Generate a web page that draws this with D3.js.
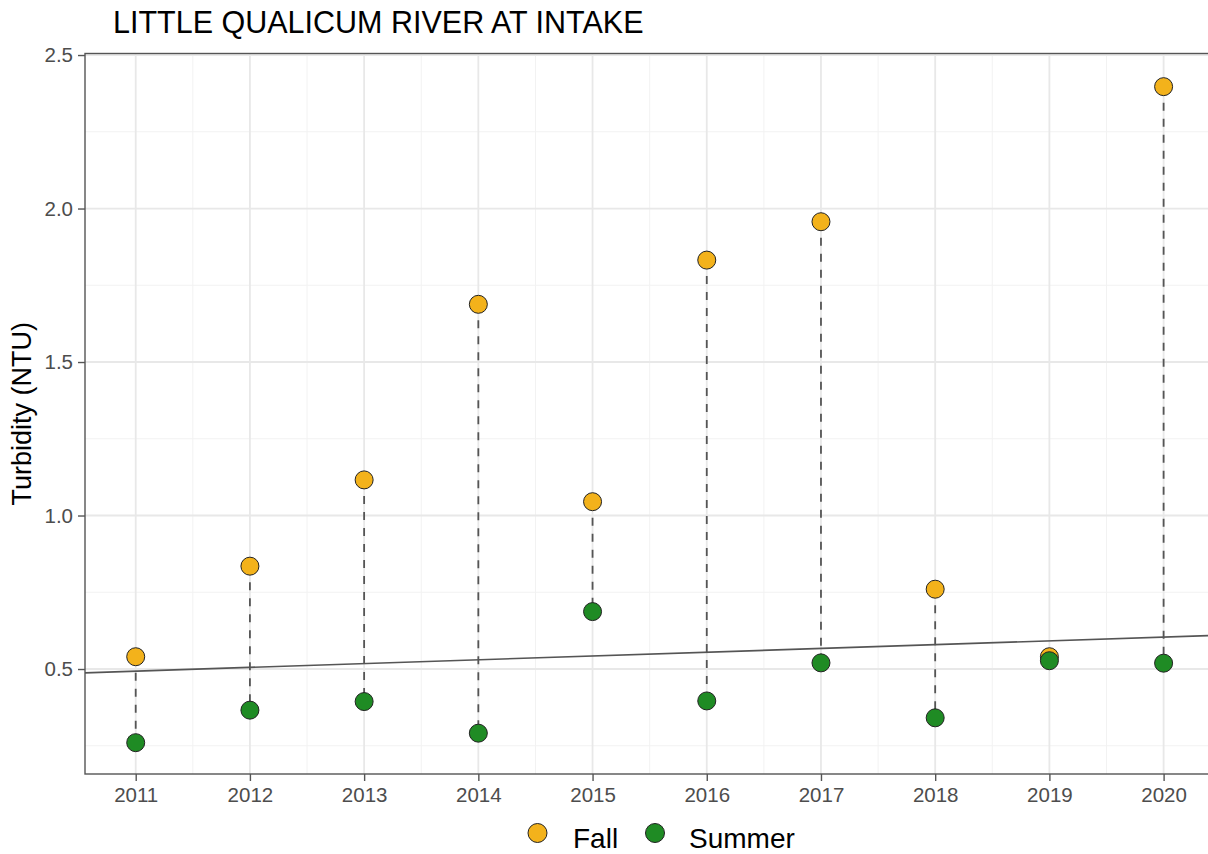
<!DOCTYPE html>
<html>
<head>
<meta charset="utf-8">
<script src="https://cdn.jsdelivr.net/npm/d3@7"></script>
<style>
  html, body { margin: 0; padding: 0; background: #fff; }
  svg { display: block; }
  text { font-family: "Liberation Sans", Arial, sans-serif; }
</style>
</head>
<body>
<div id="chart"></div>
<script>
// Seasonal turbidity at the Little Qualicum River intake
const years = [2011, 2012, 2013, 2014, 2015, 2016, 2017, 2018, 2019, 2020];
const fallValues = [0.540, 0.835, 1.116, 1.688, 1.045, 1.832, 1.957, 0.760, 0.540, 2.397];
const summerValues = [0.260, 0.366, 0.394, 0.291, 0.687, 0.396, 0.520, 0.341, 0.527, 0.519];
const yTicks = [0.5, 1.0, 1.5, 2.0, 2.5];
const yMinorTicks = [0.25, 0.75, 1.25, 1.75, 2.25];
const trendYears = [2011, 2020];
const trendValues = [0.493, 0.604];
const seriesNames = ["Fall", "Summer"];
const seriesColors = ["#F3B21B", "#1F8B24"];

const W = 1208, H = 854;
const panel = { left: 85, top: 53.5, right: 1215, bottom: 774 };

const svg = d3.select("#chart").append("svg")
  .attr("width", W).attr("height", H);

const x = d3.scaleLinear()
  .domain([2010.556, 2020.45])
  .range([panel.left, panel.right]);
const y = d3.scaleLinear()
  .domain([0.158, 2.505])
  .range([panel.bottom, panel.top]);

// Title
svg.append("text")
  .attr("x", 113).attr("y", 33)
  .attr("font-size", 30.5)
  .attr("fill", "#000")
  .text("LITTLE QUALICUM RIVER AT INTAKE");

svg.append("clipPath").attr("id", "panel-clip")
  .append("rect")
  .attr("x", panel.left).attr("y", panel.top)
  .attr("width", panel.right - panel.left)
  .attr("height", panel.bottom - panel.top);

const g = svg.append("g").attr("clip-path", "url(#panel-clip)");

// Minor gridlines
const xMinor = years.map(v => v + 0.5);
g.selectAll(".xminor").data(xMinor).join("line")
  .attr("x1", d => x(d)).attr("x2", d => x(d))
  .attr("y1", panel.top).attr("y2", panel.bottom)
  .attr("stroke", "#f2f2f2").attr("stroke-width", 1);
g.selectAll(".yminor").data(yMinorTicks).join("line")
  .attr("x1", panel.left).attr("x2", panel.right)
  .attr("y1", d => y(d)).attr("y2", d => y(d))
  .attr("stroke", "#f2f2f2").attr("stroke-width", 1);

// Major gridlines
g.selectAll(".xmajor").data(years).join("line")
  .attr("x1", d => x(d)).attr("x2", d => x(d))
  .attr("y1", panel.top).attr("y2", panel.bottom)
  .attr("stroke", "#e8e8e8").attr("stroke-width", 1.8);
g.selectAll(".ymajor").data(yTicks).join("line")
  .attr("x1", panel.left).attr("x2", panel.right)
  .attr("y1", d => y(d)).attr("y2", d => y(d))
  .attr("stroke", "#e8e8e8").attr("stroke-width", 1.8);

// Trend line across the panel
const slope = (trendValues[1] - trendValues[0]) / (trendYears[1] - trendYears[0]);
const trendAt = t => trendValues[0] + slope * (t - trendYears[0]);
const [x0, x1] = x.domain();
g.append("line")
  .attr("x1", x(x0)).attr("y1", y(trendAt(x0)))
  .attr("x2", x(x1)).attr("y2", y(trendAt(x1)))
  .attr("stroke", "#555").attr("stroke-width", 1.6);

// Dashed connectors between seasons
const rows = years.map((yr, i) => ({ year: yr, fall: fallValues[i], summer: summerValues[i] }));
g.selectAll(".seg").data(rows).join("line")
  .attr("x1", d => x(d.year)).attr("x2", d => x(d.year))
  .attr("y1", d => y(d.fall)).attr("y2", d => y(d.summer))
  .attr("stroke", "#555").attr("stroke-width", 1.8)
  .attr("stroke-dasharray", "8,8");

// Points: fall first, summer drawn on top
g.selectAll(".fall").data(rows).join("circle")
  .attr("cx", d => x(d.year)).attr("cy", d => y(d.fall))
  .attr("r", 9).attr("fill", seriesColors[0])
  .attr("stroke", "#222").attr("stroke-width", 1);
g.selectAll(".summer").data(rows).join("circle")
  .attr("cx", d => x(d.year)).attr("cy", d => y(d.summer))
  .attr("r", 9).attr("fill", seriesColors[1])
  .attr("stroke", "#222").attr("stroke-width", 1);

// Panel border
svg.append("rect")
  .attr("x", panel.left).attr("y", panel.top)
  .attr("width", panel.right - panel.left)
  .attr("height", panel.bottom - panel.top)
  .attr("fill", "none").attr("stroke", "#555").attr("stroke-width", 1.4);

// Axes
const yAxis = svg.append("g")
  .attr("transform", `translate(${panel.left},0)`)
  .call(d3.axisLeft(y).tickValues(yTicks).tickFormat(d3.format(".1f")).tickSize(7).tickPadding(5));
const xAxis = svg.append("g")
  .attr("transform", `translate(0,${panel.bottom})`)
  .call(d3.axisBottom(x).tickValues(years).tickFormat(d3.format("d")).tickSize(7).tickPadding(6));
[yAxis, xAxis].forEach(a => {
  a.select(".domain").remove();
  a.selectAll(".tick line").attr("stroke", "#555").attr("stroke-width", 1.4);
  a.selectAll(".tick text")
    .attr("fill", "#4d4d4d")
    .attr("font-size", 20.5)
    .attr("font-family", "'Liberation Sans', Arial, sans-serif");
});

// Y axis title
svg.append("text")
  .attr("transform", `translate(31,${(panel.top + panel.bottom) / 2}) rotate(-90)`)
  .attr("text-anchor", "middle")
  .attr("font-size", 27)
  .attr("fill", "#000")
  .text("Turbidity (NTU)");

// Legend
const legend = svg.append("g");
const legendItems = [
  { name: seriesNames[0], color: seriesColors[0], cx: 537.5, tx: 573 },
  { name: seriesNames[1], color: seriesColors[1], cx: 655, tx: 689 }
];
legendItems.forEach(it => {
  legend.append("circle")
    .attr("cx", it.cx).attr("cy", 833).attr("r", 9.5)
    .attr("fill", it.color).attr("stroke", "#222").attr("stroke-width", 1);
  legend.append("text")
    .attr("x", it.tx).attr("y", 848)
    .attr("font-size", 28)
    .attr("fill", "#000")
    .text(it.name);
});
</script>
</body>
</html>
